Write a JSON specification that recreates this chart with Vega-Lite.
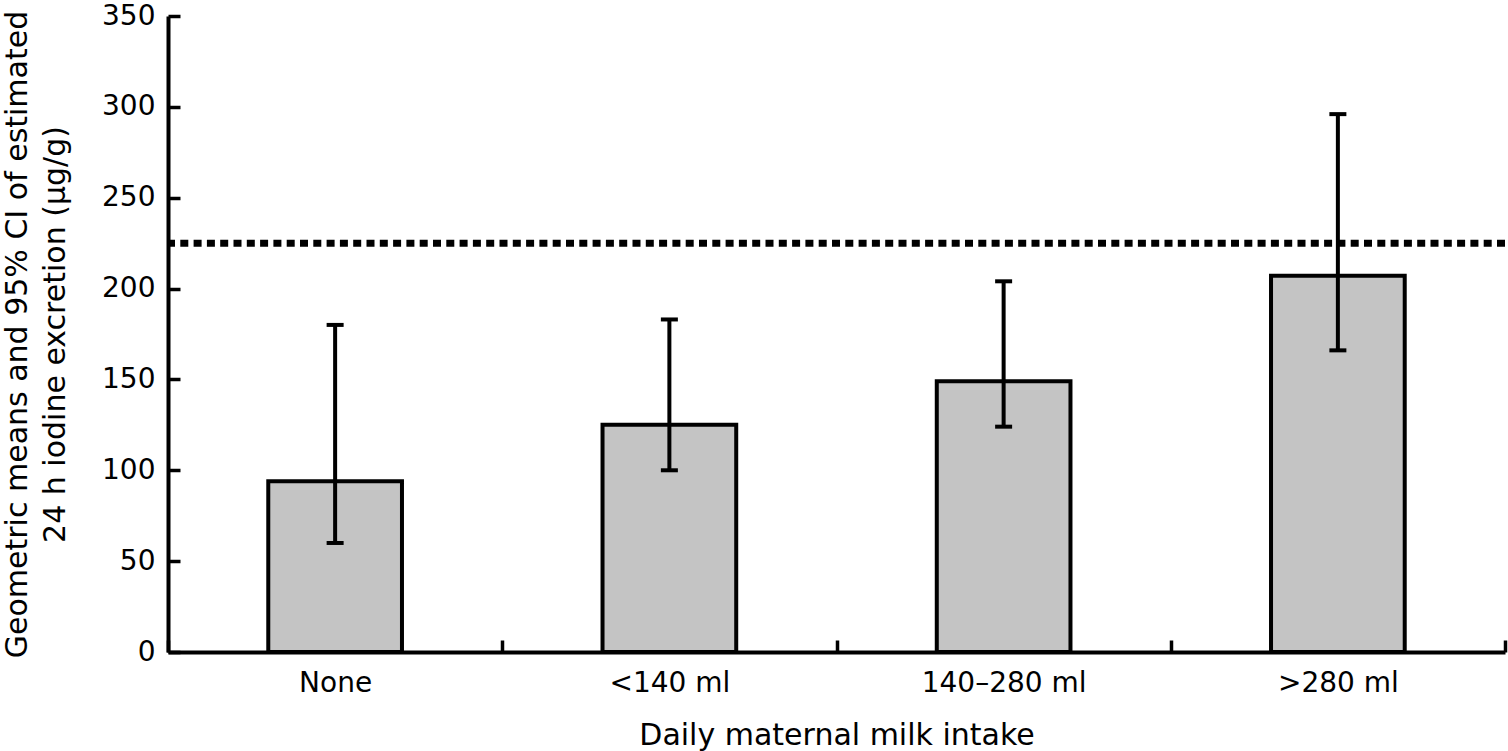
{
  "$schema": "https://vega.github.io/schema/vega-lite/v6.json",
  "autosize": {"type": "none"},
  "padding": {"left": 168, "top": 16, "right": 3, "bottom": 99},
  "width": 1337,
  "height": 636,
  "background": "white",
  "data": {
    "values": [
      {"intake": "None", "mean": 94, "lo": 60, "hi": 180},
      {"intake": "<140 ml", "mean": 125, "lo": 100, "hi": 183},
      {"intake": "140–280 ml", "mean": 149, "lo": 124, "hi": 204},
      {"intake": ">280 ml", "mean": 207, "lo": 166, "hi": 296}
    ]
  },
  "encoding": {
    "x": {
      "field": "intake",
      "type": "nominal",
      "sort": null,
      "scale": {"paddingInner": 0, "paddingOuter": 0},
      "axis": {
        "title": "Daily maternal milk intake",
        "labelAngle": 0,
        "tickBand": "extent",
        "tickSize": -12,
        "labelPadding": 29,
        "titlePadding": 23
      }
    }
  },
  "layer": [
    {
      "mark": {"type": "bar", "fill": "#c4c4c4", "stroke": "black", "strokeWidth": 4, "width": {"band": 0.4}},
      "encoding": {
        "y": {
          "field": "mean",
          "type": "quantitative",
          "scale": {"domain": [0, 350]},
          "axis": {
            "title": ["Geometric means and 95% CI of estimated", "24 h iodine excretion (µg/g)"],
            "values": [0, 50, 100, 150, 200, 250, 300, 350],
            "tickSize": -12,
            "labelPadding": 25,
            "titlePadding": 31,
            "titleLineHeight": 38
          }
        }
      }
    },
    {
      "data": {"values": [{"ref": 225}]},
      "mark": {"type": "rule", "color": "black", "strokeWidth": 7, "strokeDash": [8, 5.3]},
      "encoding": {"y": {"field": "ref", "type": "quantitative"}, "x": null}
    },
    {
      "mark": {"type": "rule", "color": "black", "strokeWidth": 4},
      "encoding": {"y": {"field": "lo", "type": "quantitative"}, "y2": {"field": "hi"}}
    },
    {
      "mark": {"type": "tick", "color": "black", "thickness": 4, "size": 17, "opacity": 1},
      "encoding": {"y": {"field": "lo", "type": "quantitative"}}
    },
    {
      "mark": {"type": "tick", "color": "black", "thickness": 4, "size": 17, "opacity": 1},
      "encoding": {"y": {"field": "hi", "type": "quantitative"}}
    }
  ],
  "config": {
    "font": "DejaVu Sans",
    "view": {"stroke": null},
    "axis": {
      "grid": false,
      "domainColor": "black",
      "domainWidth": 4,
      "tickColor": "black",
      "tickWidth": 3.5,
      "labelFont": "DejaVu Sans",
      "labelFontSize": 28,
      "labelColor": "black",
      "titleFont": "DejaVu Sans",
      "titleFontSize": 30,
      "titleFontWeight": "normal",
      "titleColor": "black"
    }
  }
}
